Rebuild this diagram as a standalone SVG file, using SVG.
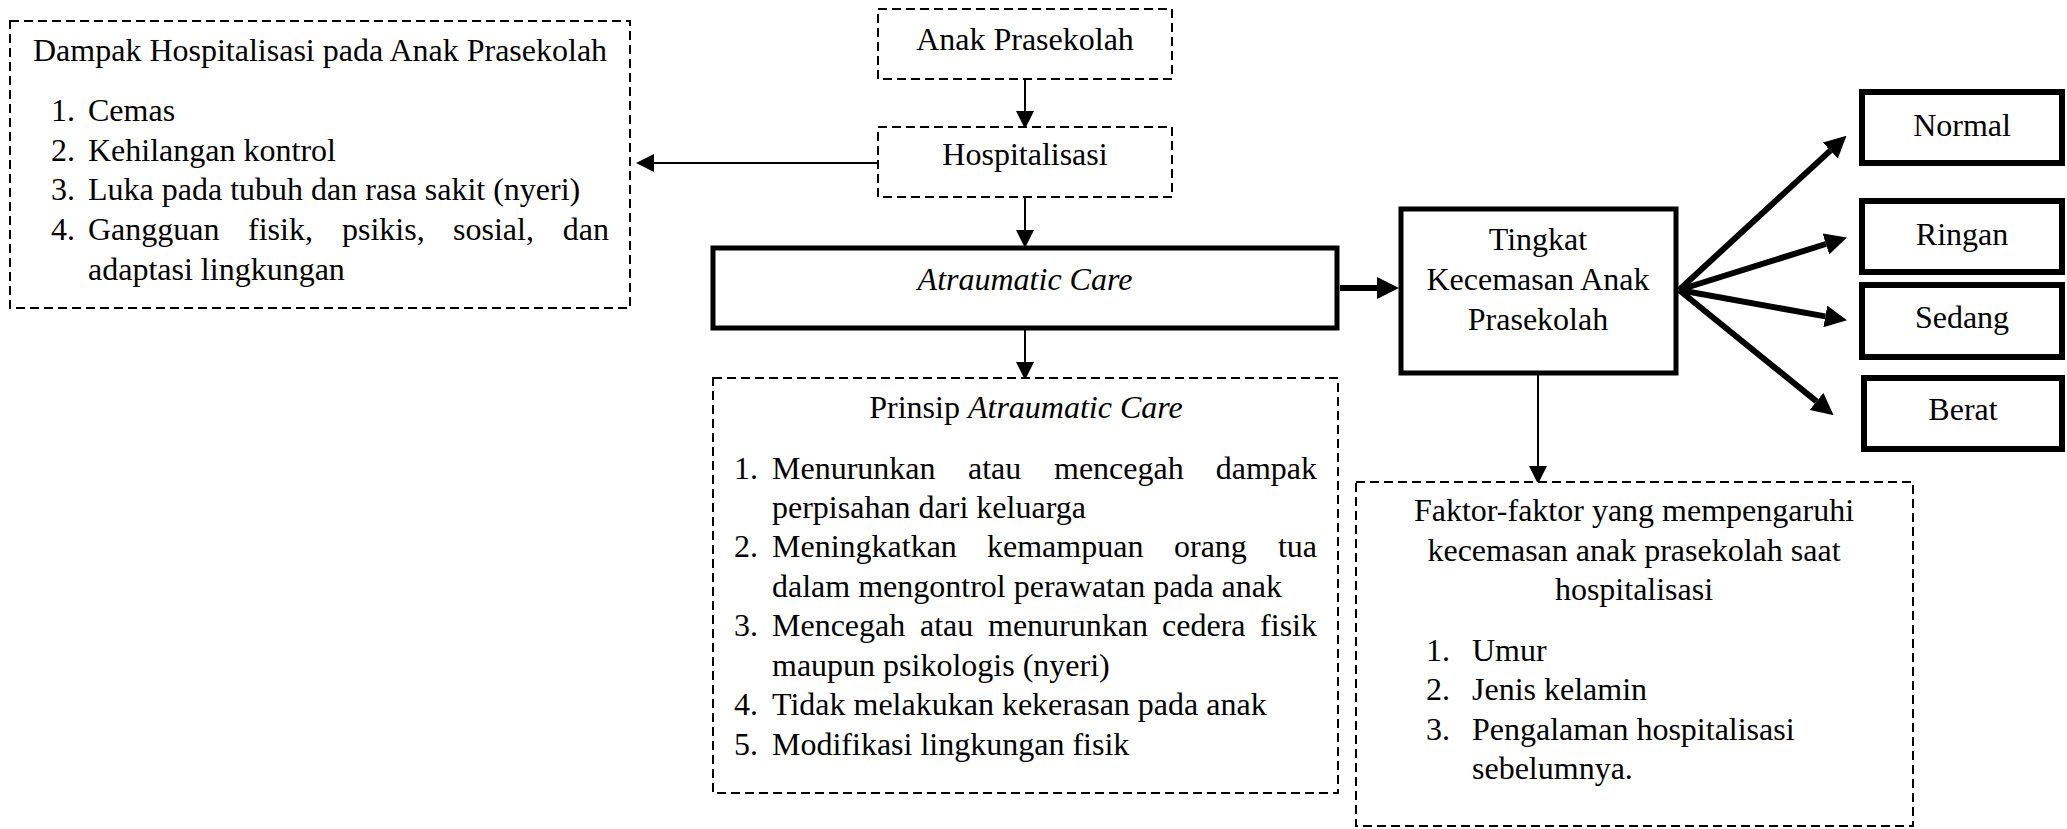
<svg xmlns="http://www.w3.org/2000/svg" width="2067" height="829" viewBox="0 0 2067 829">
<style>
text{font-family:"Liberation Serif","Times New Roman",serif;font-size:32px;fill:#000}
.c{text-anchor:middle}
.e{text-anchor:end}
.dash{fill:#fff;stroke:#000;stroke-width:2;stroke-dasharray:9 5}
.thick{fill:#fff;stroke:#000;stroke-width:5}
.box6{fill:#fff;stroke:#000;stroke-width:6}
.thin{stroke:#000;stroke-width:2;fill:none}
.fat{stroke:#000;stroke-width:6;fill:none}
</style>
<defs>
<marker id="ah" markerUnits="userSpaceOnUse" markerWidth="18" markerHeight="18" refX="0" refY="8" orient="auto" viewBox="0 0 16 16"><path d="M0,0 L16,8 L0,16 z" fill="#000"/></marker>
<marker id="ahb" markerUnits="userSpaceOnUse" markerWidth="22" markerHeight="22" refX="0" refY="10" orient="auto" viewBox="0 0 20 20"><path d="M0,0 L20,10 L0,20 z" fill="#000"/></marker>
</defs>
<rect width="2067" height="829" fill="#fff"/>

<g id="connectors">
<line class="thin" x1="1025" y1="79" x2="1025" y2="111" marker-end="url(#ah)"/>
<line class="thin" x1="1025" y1="197" x2="1025" y2="230" marker-end="url(#ah)"/>
<line class="thin" x1="1025" y1="330" x2="1025" y2="362" marker-end="url(#ah)"/>
<line class="thin" x1="878" y1="163" x2="654" y2="163" marker-end="url(#ah)"/>
<line class="thin" x1="1538" y1="364" x2="1538" y2="466" marker-end="url(#ah)"/>
<line class="fat" x1="1340" y1="288" x2="1377" y2="288" marker-end="url(#ahb)"/>
<line class="fat" x1="1679" y1="290" x2="1830.3" y2="150.6" marker-end="url(#ahb)"/>
<line class="fat" x1="1679" y1="290" x2="1825.9" y2="244" marker-end="url(#ahb)"/>
<line class="fat" x1="1679" y1="290" x2="1825.3" y2="316.4" marker-end="url(#ahb)"/>
<line class="fat" x1="1679" y1="290" x2="1816.5" y2="401.4" marker-end="url(#ahb)"/>
</g>

<g id="dampak">
<rect class="dash" x="10" y="21" width="620" height="287"/>
<text x="33" y="61">Dampak Hospitalisasi pada Anak Prasekolah</text>
<text x="51" y="121">1.</text><text x="88" y="121">Cemas</text>
<text x="51" y="161">2.</text><text x="88" y="161">Kehilangan kontrol</text>
<text x="51" y="200">3.</text><text x="88" y="200">Luka pada tubuh dan rasa sakit (nyeri)</text>
<text x="51" y="240">4.</text><text x="88" y="240">Gangguan</text><text x="248" y="240">fisik,</text><text x="342" y="240">psikis,</text><text x="453" y="240">sosial,</text><text class="e" x="609" y="240">dan</text>
<text x="88" y="280">adaptasi lingkungan</text>
</g>

<g id="anak">
<rect class="dash" x="878" y="9" width="294" height="70"/>
<text class="c" x="1025" y="50">Anak Prasekolah</text>
</g>

<g id="hospitalisasi">
<rect class="dash" x="878" y="127" width="294" height="70"/>
<text class="c" x="1025" y="165">Hospitalisasi</text>
</g>

<g id="atraumatic">
<rect class="thick" x="713" y="248" width="624" height="80"/>
<text class="c" x="1025" y="290" font-style="italic">Atraumatic Care</text>
</g>

<g id="prinsip">
<rect class="dash" x="713" y="378" width="625" height="415"/>
<text class="c" x="1026" y="418">Prinsip <tspan font-style="italic">Atraumatic Care</tspan></text>
<text x="734" y="479">1.</text><text x="772" y="479">Menurunkan</text><text x="968" y="479">atau</text><text x="1054" y="479">mencegah</text><text class="e" x="1317" y="479">dampak</text>
<text x="772" y="518">perpisahan dari keluarga</text>
<text x="734" y="557">2.</text><text x="772" y="557">Meningkatkan</text><text x="987" y="557">kemampuan</text><text x="1174" y="557">orang</text><text class="e" x="1317" y="557">tua</text>
<text x="772" y="597">dalam mengontrol perawatan pada anak</text>
<text x="734" y="636">3.</text><text x="772" y="636">Mencegah</text><text x="920" y="636">atau</text><text x="988" y="636">menurunkan</text><text x="1162" y="636">cedera</text><text class="e" x="1317" y="636">fisik</text>
<text x="772" y="676">maupun psikologis (nyeri)</text>
<text x="734" y="715">4.</text><text x="772" y="715">Tidak melakukan kekerasan pada anak</text>
<text x="734" y="755">5.</text><text x="772" y="755">Modifikasi lingkungan fisik</text>
</g>

<g id="tingkat">
<rect class="thick" x="1401" y="209" width="275" height="164"/>
<text class="c" x="1538" y="250">Tingkat</text>
<text class="c" x="1538" y="290">Kecemasan Anak</text>
<text class="c" x="1538" y="330">Prasekolah</text>
</g>

<g id="normal">
<rect class="box6" x="1862" y="92" width="200" height="71"/>
<text class="c" x="1962" y="136">Normal</text>
</g>
<g id="ringan">
<rect class="box6" x="1862" y="201" width="200" height="71"/>
<text class="c" x="1962" y="245">Ringan</text>
</g>
<g id="sedang">
<rect class="box6" x="1862" y="285" width="200" height="72"/>
<text class="c" x="1962" y="328">Sedang</text>
</g>
<g id="berat">
<rect class="box6" x="1864" y="378" width="198" height="71"/>
<text class="c" x="1963" y="420">Berat</text>
</g>

<g id="faktor">
<rect class="dash" x="1356" y="482" width="557" height="344"/>
<text class="c" x="1634" y="521">Faktor-faktor yang mempengaruhi</text>
<text class="c" x="1634" y="561">kecemasan anak prasekolah saat</text>
<text class="c" x="1634" y="600">hospitalisasi</text>
<text x="1426" y="661">1.</text><text x="1472" y="661">Umur</text>
<text x="1426" y="700">2.</text><text x="1472" y="700">Jenis kelamin</text>
<text x="1426" y="740">3.</text><text x="1472" y="740">Pengalaman hospitalisasi</text>
<text x="1472" y="779">sebelumnya.</text>
</g>
</svg>
